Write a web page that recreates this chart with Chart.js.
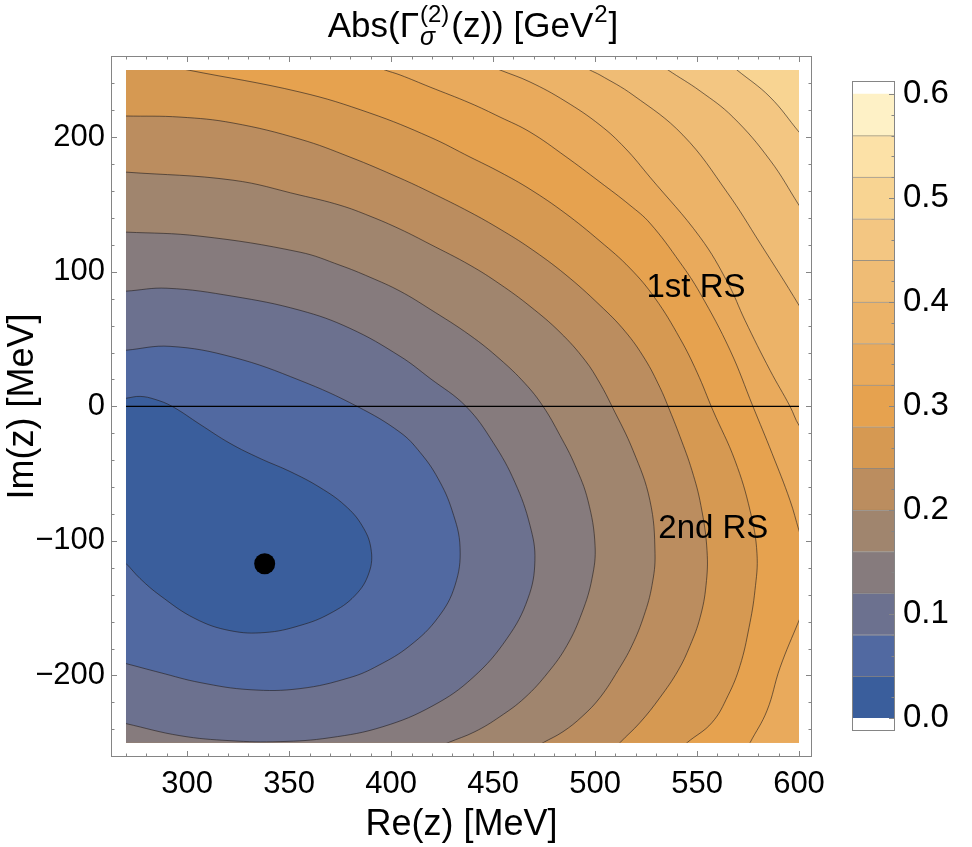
<!DOCTYPE html>
<html>
<head>
<meta charset="utf-8">
<script src="https://cdn.jsdelivr.net/npm/chart.js@4.4.0/dist/chart.umd.min.js"></script>
<style>
  body { margin: 0; background: #fff; }
  #wrap { position: relative; width: 972px; height: 847px; }
  #wrap canvas { position: absolute; left: 0; top: 0; }
</style>
</head>
<body>
<div id="wrap">
  <canvas id="plot" width="972" height="847"></canvas>
  <canvas id="legend" width="972" height="847"></canvas>
</div>
<script>
// plotted range of Re(z), Im(z)
const reRange = [270, 600];
const imRange = [-250, 250];

// contour levels, one colour per 0.04 band (0.00-0.04 ... 0.56-0.60)
const levels = [0.04, 0.08, 0.12, 0.16, 0.20, 0.24, 0.28, 0.32, 0.36, 0.40, 0.44, 0.48];
const bandColors = ['#3a5e9c', '#5169a1', '#6c718f', '#867b7d', '#a0856e', '#bb8d5f', '#d69952',
  '#e6a24f', '#e9aa5c', '#ecb368', '#efbc75', '#f3c682', '#f8d492', '#fce1a7', '#fef1c6'];

// contour lines, [Re, Im] in MeV (first/last points sit just outside the frame)
const contour004 = [[262,4.5],[270,6.0],[276.9,7.4],[284.2,5.2],[292.6,0],[306.3,-13.4],[321.0,-27.5],[335.7,-38.7],
  [350.4,-48.4],[365.1,-60.3],[377.4,-73.7],[385.7,-88.5],[390.1,-105.6],[389.2,-123.5],[382.3,-140.6],
  [370.0,-154.0],[355.3,-162.9],[338.2,-168.1],[321.0,-166.7],[303.8,-157.7],[286.7,-140.6],[276.9,-128.0],
  [270,-116.8],[262,-106]];
const contour008 = [[262,40.5],[270,41.7],[291.6,44.6],[322.5,36.5],[355.3,19.3],[383.3,0],[404.4,-19.3],[414.2,-34.2],
  [423.0,-53.6],[429.9,-77.4],[433.8,-104.9],[431.3,-133.2],[423.0,-157.0],[409.3,-177.8],[393.6,-192.7],
  [379.8,-201.6],[355.3,-209.8],[330.8,-210.6],[306.3,-205.3],[286.7,-197.9],[270,-191.2],[262,-188.2]];
const contour012 = [[262,85.0],[270,85.6],[290.1,87.8],[322.5,81.8],[355.3,71.4],[379.8,58.0],[404.4,37.2],[419.1,20.8],
  [436.7,0],[450.0,-26.8],[460.7,-56.5],[468.1,-88.5],[470.5,-114.6],[467.1,-142.8],[456.8,-172.6],[440.1,-201.6],
  [420.5,-222.5],[396.0,-238.1],[370.0,-246.3],[345.5,-249.2],[321.0,-248.5],[296.5,-244.8],[270,-235.8],[262,-232.9]];
const contour016 = [[262,129.5],[270,129.5],[306.3,126.5],[355.3,114.6],[374.9,104.9],[389.6,96.0],[404.4,85.6],
  [419.1,72.2],[438.7,52.8],[453.4,35.0],[465.6,17.1],[474.5,0],[482.8,-21.6],[490.2,-43.9],[496.5,-69.9],
  [500.0,-103.4],[498.5,-128.0],[493.6,-153.3],[486.2,-177.8],[476.9,-197.9],[465.6,-216.5],[453.4,-230.6],
  [441.1,-241.8],[427.9,-250],[414,-259]];
const contour020 = [[262,175],[270,174.1],[322.5,168.1],[355.3,157.0],[374.9,149.5],[389.6,141.4],[404.4,131.7],
  [419.1,120.5],[438.7,104.9],[453.4,90.8],[468.1,74.4],[482.8,55.1],[495.1,34.2],[502.4,17.1],[508.3,0],
  [518.6,-32.7],[526.9,-69.9],[529.4,-109.4],[527.9,-133.2],[524.0,-155.5],[518.1,-177.8],[511.2,-196.4],
  [502.4,-216.5],[493.6,-230.6],[484.3,-241.8],[474.5,-250],[464,-259]];
const contour024 = [[262,216],[270,215.8],[296.5,215.0],[322.5,210.6],[355.3,198.6],[379.8,185.3],[404.4,169.6],
  [419.1,159.2],[438.7,144.3],[453.4,131.7],[468.1,117.6],[485.3,98.2],[502.4,75.1],[514.7,55.8],[524.5,35.0],
  [531.8,14.1],[535.8,0],[541.6,-22.3],[547.5,-47.6],[551.9,-73.7],[554.9,-107.1],[554.4,-133.2],[551.5,-157.0],
  [546.6,-177.8],[540.7,-196.4],[531.8,-216.5],[522.0,-235.1],[512.2,-250],[507,-259]];
const contour028 = [[271,259],[300.4,250],[355.3,233.6],[389.6,218.0],[419.1,200.1],[438.7,185.3],[453.4,174.1],
  [468.1,161.4],[485.3,143.6],[502.4,122.8],[517.1,102.7],[529.4,80.4],[541.6,50.6],[550.0,25.3],[557.8,-3.0],
  [568.6,-40.2],[576.0,-77.4],[579.4,-109.4],[578.4,-136.9],[575.5,-164.4],[571.1,-192.7],[565.2,-215.0],
  [557.3,-235.1],[545.1,-250],[538.5,-259]];
const contour032Upper = [[381.3,259],[397.0,250],[404.4,246.3],[419.1,237.3],[438.7,225.4],[453.4,215.0],[468.1,203.9],
  [485.3,186.0],[502.4,166.7],[517.1,149.5],[526.9,136.2],[541.6,107.1],[551.5,84.1],[566.2,41.7],[577.4,0],
  [586.8,-35.0],[595.6,-69.9],[600,-92.3],[606,-122]];
const contour032Lower = [[606,-137],[600,-159.2],[590.7,-194.2],[584.3,-226.2],[576.0,-250],[573,-259]];
const contour036 = [[438.7,259],[453.4,250],[468.1,241.1],[485.3,226.9],[502.4,209.1],[514.7,192.0],[526.9,170.4],
  [551.5,125.7],[565.2,91.5],[573.5,64.0],[585.8,26.8],[595.6,0],[600,-14.1],[606,-25]];
const contour040 = [[487.7,259],[497.5,250],[502.4,246.3],[518.6,231.4],[543.1,201.6],[564.7,159.2],[580.9,121.3],
  [600,75.1],[606,58]];
const contour044 = [[527.5,259],[535.8,250],[551.5,234.4],[567.6,215.0],[585.8,183.0],[600,149.5],[606,135]];
const contour048 = [[562.3,259],[569.6,250],[585.8,229.9],[600,203.9],[606,193]];

// pole marker and region labels
const poleRe = [338];
const poleIm = [-117];
const sheetLabels = ['1st RS', '2nd RS'];
const sheetLabelRe = [549.5, 558];
const sheetLabelIm = [81, -98];

// ticks
const xMajorTicks = [300, 350, 400, 450, 500, 550, 600];
const xMinorTicks = [270, 280, 290, 310, 320, 330, 340, 360, 370, 380, 390, 410, 420, 430, 440,
  460, 470, 480, 490, 510, 520, 530, 540, 560, 570, 580, 590];
const yMajorTicks = [-200, -100, 0, 100, 200];
const yMinorTicks = [-240, -220, -180, -160, -140, -120, -80, -60, -40, -20, 20, 40, 60, 80,
  120, 140, 160, 180, 220, 240];
const barTicks = [0, 0.1, 0.2, 0.3, 0.4, 0.5, 0.6];
const barMinorTicks = [0.02, 0.04, 0.06, 0.08, 0.12, 0.14, 0.16, 0.18, 0.22, 0.24, 0.26, 0.28,
  0.32, 0.34, 0.36, 0.38, 0.42, 0.44, 0.46, 0.48, 0.52, 0.54, 0.56, 0.58];

const FONT = '"Liberation Sans", Arial, sans-serif';
const FRAME = '#858585';
Chart.defaults.font.family = FONT;
Chart.defaults.color = '#000';

// each region {value < level} = contour + corner points outside the frame
const regions = [
  { pts: contour004, close: [] },
  { pts: contour008, close: [] },
  { pts: contour012, close: [] },
  { pts: contour016, close: [[262, -261]] },
  { pts: contour020, close: [[262, -261]] },
  { pts: contour024, close: [[262, -261]] },
  { pts: contour028, close: [[262, -261], [262, 261]] },
  { pts: contour032Upper.concat(contour032Lower), close: [[262, -261], [262, 261]] },
  { pts: contour036, close: [[606.5, -261], [262, -261], [262, 261]] },
  { pts: contour040, close: [[606.5, -261], [262, -261], [262, 261]] },
  { pts: contour044, close: [[606.5, -261], [262, -261], [262, 261]] },
  { pts: contour048, close: [[606.5, -261], [262, -261], [262, 261]] }
];
const lines = [contour004, contour008, contour012, contour016, contour020, contour024, contour028,
  contour032Upper, contour032Lower, contour036, contour040, contour044, contour048];

const toXY = arr => arr.map(p => ({ x: p[0], y: p[1] }));

const datasets = [];
// top band fills the whole frame first
datasets.push({
  data: toXY([[262, 261], [606.5, 261], [606.5, -261], [262, -261]]),
  showLine: true, fill: 'shape', backgroundColor: bandColors[levels.length],
  borderColor: 'rgba(0,0,0,0)', borderWidth: 0, pointRadius: 0, tension: 0, order: 30
});
regions.forEach((r, k) => {
  datasets.push({
    data: toXY(r.pts.concat(r.close)),
    showLine: true, fill: 'shape', backgroundColor: bandColors[k],
    borderColor: 'rgba(0,0,0,0)', borderWidth: 0, pointRadius: 0, tension: 0.4, order: 3 + k
  });
});
lines.forEach(c => {
  datasets.push({
    data: toXY(c), showLine: true, fill: false,
    borderColor: 'rgba(35,30,30,0.6)', borderWidth: 1, pointRadius: 0, tension: 0.4, order: 2
  });
});
// Im(z) = 0 line
datasets.push({
  data: [{ x: reRange[0], y: 0 }, { x: reRange[1], y: 0 }],
  showLine: true, fill: false, borderColor: '#000', borderWidth: 1.3, pointRadius: 0, order: 1
});
// the pole
datasets.push({
  data: poleRe.map((v, i) => ({ x: v, y: poleIm[i] })),
  showLine: false, pointRadius: 10.5, pointBackgroundColor: '#000', pointBorderWidth: 0, order: 0
});

function frameAndTicks(ctx, area, xs, ys, xMaj, xMin, yMaj, yMin, sides) {
  ctx.save();
  ctx.strokeStyle = FRAME;
  ctx.lineWidth = 1;
  ctx.strokeRect(area.left + 0.5, area.top + 0.5, area.right - area.left - 1, area.bottom - area.top - 1);
  ctx.beginPath();
  if (xs) {
    [[xMaj, 6], [xMin, 3.5]].forEach(([vals, len]) => vals.forEach(v => {
      const p = Math.round(xs.getPixelForValue(v)) + 0.5;
      ctx.moveTo(p, area.bottom); ctx.lineTo(p, area.bottom - len);
      ctx.moveTo(p, area.top); ctx.lineTo(p, area.top + len);
    }));
  }
  [[yMaj, 6], [yMin, 3.5]].forEach(([vals, len]) => vals.forEach(v => {
    const p = Math.round(ys.getPixelForValue(v)) + 0.5;
    if (sides.left) { ctx.moveTo(area.left, p); ctx.lineTo(area.left + len, p); }
    if (sides.right) { ctx.moveTo(area.right, p); ctx.lineTo(area.right - len, p); }
  }));
  ctx.stroke();
  ctx.restore();
}

function drawTitle(ctx, cx, base) {
  const big = '35px ' + FONT, small = '24px ' + FONT, smallIt = 'italic 25px ' + FONT;
  ctx.save();
  ctx.fillStyle = '#000';
  ctx.textAlign = 'left';
  ctx.textBaseline = 'alphabetic';
  ctx.font = big;
  const w1 = ctx.measureText('Abs(\u0393').width;
  const w3 = ctx.measureText('(z)) [GeV').width;
  const w5 = ctx.measureText(']').width;
  ctx.font = small;
  const wSup = ctx.measureText('(2)').width;
  const wSup2 = ctx.measureText('2').width;
  ctx.font = smallIt;
  const wSub = ctx.measureText('\u03c3').width;
  const wStack = Math.max(wSup, wSub) + 3;
  const total = w1 + wStack + w3 + wSup2 + 2 + w5;
  let x = cx - total / 2;
  ctx.font = big; ctx.fillText('Abs(\u0393', x, base); x += w1;
  ctx.font = small; ctx.fillText('(2)', x + 1, base - 15);
  ctx.font = smallIt; ctx.fillText('\u03c3', x + 1, base + 8);
  x += wStack;
  ctx.font = big; ctx.fillText('(z)) [GeV', x, base); x += w3;
  ctx.font = small; ctx.fillText('2', x + 1, base - 15); x += wSup2 + 2;
  ctx.font = big; ctx.fillText(']', x, base);
  ctx.restore();
}

const plotDecor = {
  id: 'plotDecor',
  beforeDatasetsDraw(chart) {
    const { ctx, scales: { x, y } } = chart;
    const l = x.getPixelForValue(reRange[0]), r = x.getPixelForValue(reRange[1]);
    const t = y.getPixelForValue(imRange[1]), b = y.getPixelForValue(imRange[0]);
    ctx.save();
    ctx.beginPath();
    ctx.rect(l, t, r - l, b - t);
    ctx.clip();
  },
  afterDatasetsDraw(chart) {
    chart.ctx.restore();
  },
  afterDraw(chart) {
    const { ctx, chartArea, scales: { x, y } } = chart;
    frameAndTicks(ctx, chartArea, x, y, xMajorTicks, xMinorTicks, yMajorTicks, yMinorTicks, { left: true, right: true });
    ctx.save();
    ctx.fillStyle = '#000';
    ctx.font = '33px ' + FONT;
    ctx.textAlign = 'center';
    ctx.textBaseline = 'alphabetic';
    sheetLabels.forEach((s, i) => {
      ctx.fillText(s, x.getPixelForValue(sheetLabelRe[i]), y.getPixelForValue(sheetLabelIm[i]));
    });
    ctx.restore();
    drawTitle(ctx, 473, 37);
  }
};

new Chart(document.getElementById('plot'), {
  type: 'scatter',
  data: { datasets },
  options: {
    responsive: false,
    devicePixelRatio: 1,
    animation: false,
    events: [],
    layout: { padding: { top: 56, right: 160, left: 0, bottom: 0 } },
    plugins: { legend: { display: false }, tooltip: { enabled: false } },
    scales: {
      x: {
        type: 'linear', min: 262.645, max: 606.374,
        grid: { display: false, drawTicks: false }, border: { display: false },
        afterBuildTicks: s => { s.ticks = xMajorTicks.map(v => ({ value: v })); },
        afterFit: s => { s.height = 90; },
        ticks: { color: '#000', font: { size: 31 }, padding: 9, maxRotation: 0, autoSkip: false },
        title: { display: true, text: 'Re(z) [MeV]', color: '#000', font: { size: 36 }, padding: { top: 0, bottom: 0 } }
      },
      y: {
        type: 'linear', min: -260.63, max: 260.406,
        grid: { display: false, drawTicks: false }, border: { display: false },
        afterBuildTicks: s => { s.ticks = yMajorTicks.map(v => ({ value: v })); },
        afterFit: s => { s.width = 111; },
        ticks: {
          color: '#000', font: { size: 31 }, padding: 6, autoSkip: false,
          callback: v => (v < 0 ? '\u2212' + Math.abs(v) : String(v))
        },
        title: { display: true, text: 'Im(z) [MeV]', color: '#000', font: { size: 36 }, padding: { top: 1, bottom: 0 } }
      }
    }
  },
  plugins: [plotDecor]
});

// colour bar legend
const barDecor = {
  id: 'barDecor',
  afterDraw(chart) {
    const { ctx, chartArea, scales: { y } } = chart;
    frameAndTicks(ctx, chartArea, null, y, [], [], barTicks, barMinorTicks, { left: false, right: true });
  }
};

new Chart(document.getElementById('legend'), {
  type: 'bar',
  data: {
    labels: [''],
    datasets: bandColors.map((c, i) => ({
      data: [0.04],
      backgroundColor: c,
      borderColor: 'rgba(40,35,30,0.45)',
      borderWidth: i < bandColors.length - 1 ? { top: 1, bottom: 0, left: 0, right: 0 } : 0,
      borderSkipped: false,
      barPercentage: 1,
      categoryPercentage: 1
    }))
  },
  options: {
    responsive: false,
    devicePixelRatio: 1,
    animation: false,
    events: [],
    layout: { padding: { top: 81, right: 0, left: 852, bottom: 116 } },
    plugins: { legend: { display: false }, tooltip: { enabled: false } },
    scales: {
      x: { stacked: true, display: false },
      y: {
        stacked: true, position: 'right', min: -0.0125, max: 0.6125,
        grid: { display: false, drawTicks: false }, border: { display: false },
        afterBuildTicks: s => { s.ticks = barTicks.map(v => ({ value: v })); },
        afterFit: s => { s.width = 77; },
        ticks: { color: '#000', font: { size: 33 }, padding: 8, autoSkip: false, callback: v => v.toFixed(1) }
      }
    }
  },
  plugins: [barDecor]
});
</script>
</body>
</html>
